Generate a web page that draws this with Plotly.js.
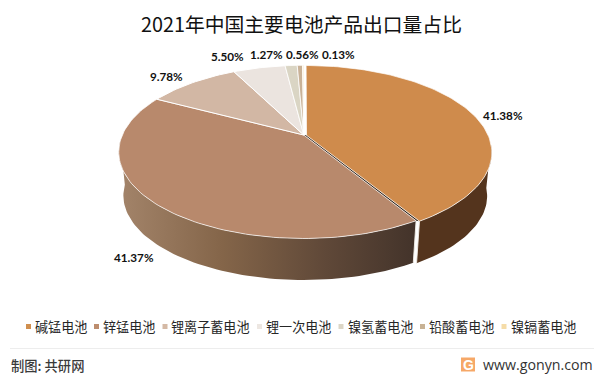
<!DOCTYPE html>
<html><head><meta charset="utf-8">
<script src="https://cdn.plot.ly/plotly-3.0.1.min.js"></script>
<style>html,body{margin:0;padding:0;background:#fff}#c{width:600px;height:377px}</style></head>
<body><div id="c"></div>
<script>
const categories=['碱锰电池','锌锰电池','锂离子蓄电池','锂一次电池','镍氢蓄电池','铅酸蓄电池','镍镉蓄电池'];
const shares=[41.38,41.37,9.78,5.50,1.27,0.56,0.13];
const shareLabels=['41.38%','41.37%','9.78%','5.50%','1.27%','0.56%','0.13%'];
const topColors=['#CF8B4C','#B8896C','#D2B7A4','#EBE4DF','#DAD5C4','#C9B298','#F6DDAA'];
const legendColors=['#D08F4F','#BD8D6E','#D4B9A5','#EDE7E2','#DCD6C6','#C8B295','#F5DCA8'];
const labelX=[503,134,166,227,266,302,338];
const labelY=[115,257,76,56,54,54,54];
const legendSquareX=[28.5,96.5,165,259.5,341,422.5,504];

const W=600,H=377,cx=303.8,cy=135,R=181.5;
const k=0.195,tilt=0.459,depth=0.243,baseScale=0.975;
const total=shares.reduce((a,b)=>a+b,0);
function project(t,rad,dx,dy,base){
  const X=Math.sin(t)*rad+dx,Y=Math.cos(t)*rad+dy,w=1+k*Y,s=base?baseScale:1;
  return [s*X/w,-(base?depth:0)+s*tilt*Y/w];
}
const d2r=Math.PI/180;
function arc(a,b,off,base){
  const n=Math.max(2,Math.ceil(Math.abs(b-a)/1.5)),xs=[],ys=[];
  for(let i=0;i<=n;i++){const p=project((a+(b-a)*i/n)*d2r,1,off[0],off[1],base);xs.push(p[0]);ys.push(p[1]);}
  return [xs,ys];
}
const spans=[];let acc=0;
shares.forEach(v=>{const a=acc/total*360;acc+=v;spans.push([a,acc/total*360]);});
const offs=shares.map((v,i)=>i===0?[0.015,-0.004]:[0,0]);
const traces=[];
function wall(a,b,off,style){
  const t=arc(a,b,off,false),u=arc(b,a,off,true);
  traces.push(Object.assign({type:'scatter',mode:'lines',x:t[0].concat(u[0],[t[0][0]]),y:t[1].concat(u[1],[t[1][0]]),
    fill:'toself',line:{width:0},hoverinfo:'skip',showlegend:false},style));
}
wall(96,spans[0][1],offs[0],{fillcolor:'#54341D'});
wall(spans[1][0],266,offs[1],{fillcolor:'#8a6a50',fillgradient:{type:'horizontal',colorscale:[[0,'#A3846A'],[0.35,'#846549'],[0.7,'#5f4838'],[1,'#43332A']]}});
[0,1].forEach(i=>{
  const a=spans[0][1],o=offs[i];
  const p=project(a*d2r,1,o[0],o[1],false),q=project(a*d2r,1,o[0],o[1],true);
  traces.push({type:'scatter',mode:'lines',x:[p[0],q[0]],y:[p[1],q[1]],line:{color:'#F3EEE8',width:0.9},hoverinfo:'skip',showlegend:false});
});
const c0=project(0,0,offs[0][0],offs[0][1],false),c1=project(0,0,0,0,false);
const e0=project(spans[0][1]*d2r,1,offs[0][0],offs[0][1],false),e1=project(spans[0][1]*d2r,1,0,0,false);
traces.push({type:'scatter',mode:'lines',x:[c1[0],c0[0],e0[0],e1[0],c1[0]],y:[c1[1],c0[1],e0[1],e1[1],c1[1]],fill:'toself',fillcolor:'#2E2015',line:{width:0},hoverinfo:'skip',showlegend:false});
shares.forEach((v,i)=>{
  const t=arc(spans[i][0],spans[i][1],offs[i],false),c=project(0,0,offs[i][0],offs[i][1],false);
  traces.push({type:'scatter',mode:'lines',name:categories[i],x:[c[0]].concat(t[0],[c[0]]),y:[c[1]].concat(t[1],[c[1]]),
    fill:'toself',fillcolor:topColors[i],line:{color:'#FFFFFF',width:i<2?0.7:(i<4?1:0.8)},hoverinfo:'skip',showlegend:false});
});
const toX=p=>(p-cx)/R,toY=p=>(cy-p)/R;
traces.push({type:'scatter',mode:'markers',x:legendSquareX.map(toX),y:legendSquareX.map(()=>toY(326.5)),
  marker:{symbol:'square',size:5,color:legendColors,line:{width:0}},hoverinfo:'skip',showlegend:false});

const ann=[];
shareLabels.forEach((s,i)=>ann.push({xref:'paper',yref:'paper',x:labelX[i]/W,y:1-labelY[i]/H,text:s,showarrow:false,
  xanchor:'center',yanchor:'middle',font:{family:'Lato',size:11.7,color:'#111',weight:700}}));
categories.forEach((s,i)=>ann.push({xref:'paper',yref:'paper',x:(legendSquareX[i]+4.5)/W,y:1-326.5/H,text:s,showarrow:false,
  xanchor:'left',yanchor:'middle',font:{family:'Noto Sans CJK SC',size:13.1,color:'#262626'}}));
ann.push({xref:'paper',yref:'paper',x:9/W,y:1-365/H,text:'制图: 共研网',showarrow:false,xanchor:'left',yanchor:'middle',font:{family:'Noto Sans CJK SC',size:13.3,color:'#3a3a3a',weight:500}});
ann.push({xref:'paper',yref:'paper',x:595/W,y:1-364/H,text:'www.gonyn.com',showarrow:false,xanchor:'right',yanchor:'middle',font:{family:'Open Sans',size:14.2,color:'#333'}});
ann.push({xref:'paper',yref:'paper',x:468/W,y:1-364.5/H,text:'G',showarrow:false,xanchor:'center',yanchor:'middle',font:{family:'Liberation Sans',size:14,color:'#fff',weight:700}});

const layout={width:W,height:H,margin:{l:0,r:0,t:0,b:0},paper_bgcolor:'#fff',plot_bgcolor:'#fff',showlegend:false,
  title:{text:'2021年中国主要电池产品出口量占比',x:301.5/W,xanchor:'center',y:1-25/H,yanchor:'middle',font:{family:'Noto Sans CJK SC',size:19.8,color:'#111'}},
  xaxis:{range:[(0-cx)/R,(W-cx)/R],visible:false,fixedrange:true},
  yaxis:{range:[(cy-H)/R,cy/R],visible:false,fixedrange:true},
  annotations:ann,
  shapes:[
   {type:'line',xref:'paper',yref:'paper',x0:10/W,x1:594/W,y0:1-348.5/H,y1:1-348.5/H,line:{color:'#EDEDED',width:1}},
   {type:'rect',xref:'paper',yref:'paper',x0:461/W,x1:475/W,y0:1-357.5/H,y1:1-371.5/H,fillcolor:'#F6A868',line:{width:0},layer:'below'}
  ]};
Plotly.newPlot('c',traces,layout,{displayModeBar:false,staticPlot:true});
</script></body></html>
